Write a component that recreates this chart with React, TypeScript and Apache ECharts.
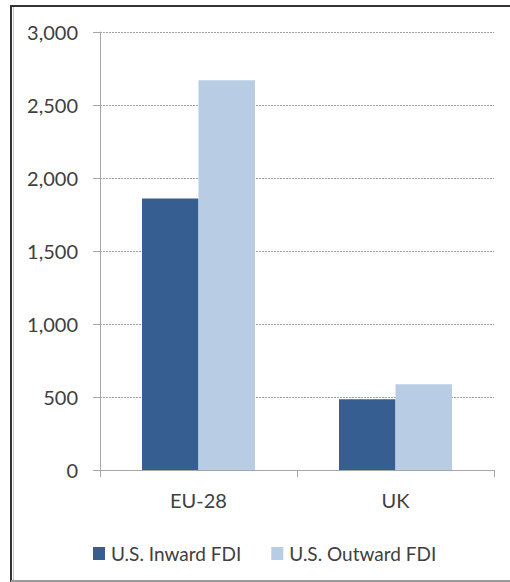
import React, { useEffect, useRef } from "react";
import * as echarts from "echarts";

const categories = ["EU-28", "UK"];
const inwardFDI = [1860, 485];
const outwardFDI = [2670, 588];
const seriesNames = ["U.S. Inward FDI", "U.S. Outward FDI"];
const yTicks = { min: 0, max: 3000, interval: 500 };

const FONT = "Lato";
const TEXT = "#404040";
const FS = 20;

export default function App() {
  const ref = useRef<HTMLDivElement>(null);
  useEffect(() => {
    if (!ref.current) return;
    const chart = echarts.init(ref.current, undefined, { renderer: "svg" });
    chart.setOption({
      animation: false,
      backgroundColor: "#ffffff",
      textStyle: { fontFamily: FONT, color: TEXT },
      grid: { left: 100, right: 16, top: 32, bottom: 112, containLabel: false },
      legend: {
        left: 88,
        top: 539,
        icon: "rect",
        itemWidth: 12,
        itemHeight: 13,
        itemGap: 30,
        textStyle: { fontFamily: FONT, fontSize: 19, color: TEXT, padding: [0, 0, 0, 1] },
        data: seriesNames,
      },
      xAxis: {
        type: "category",
        data: categories,
        axisLine: { show: true, lineStyle: { color: "#a6a6a6", width: 1 } },
        axisTick: { show: true, length: 7, alignWithLabel: false, lineStyle: { color: "#a6a6a6" } },
        axisLabel: { fontFamily: FONT, fontSize: FS, color: TEXT, margin: 20 },
      },
      yAxis: {
        type: "value",
        min: yTicks.min,
        max: yTicks.max,
        interval: yTicks.interval,
        axisLine: { show: true, lineStyle: { color: "#a6a6a6", width: 1 } },
        axisTick: { show: true, length: 7, lineStyle: { color: "#a6a6a6" } },
        axisLabel: {
          fontFamily: FONT,
          fontSize: FS,
          color: TEXT,
          margin: 22,
          formatter: (v: number) => v.toLocaleString("en-US"),
        },
        splitLine: { show: true, lineStyle: { color: "#a0a0a0", type: [2, 1], width: 1 } },
      },
      series: [
        {
          name: seriesNames[0],
          type: "bar",
          data: inwardFDI,
          barWidth: 56.5,
          barGap: "0%",
          itemStyle: { color: "#375E91" },
        },
        {
          name: seriesNames[1],
          type: "bar",
          data: outwardFDI,
          barWidth: 56.5,
          barGap: "0%",
          itemStyle: { color: "#B8CCE4" },
        },
      ],
      graphic: [
        { type: "line", shape: { x1: 11, y1: 6, x2: 510, y2: 6 }, style: { stroke: "#333333", lineWidth: 2 } },
        { type: "line", shape: { x1: 11, y1: 5, x2: 11, y2: 582 }, style: { stroke: "#333333", lineWidth: 2 } },
        { type: "line", shape: { x1: 13.5, y1: 7, x2: 13.5, y2: 580 }, style: { stroke: "#c8c8c8", lineWidth: 1 } },
        { type: "line", shape: { x1: 11, y1: 581, x2: 510, y2: 581 }, style: { stroke: "#999999", lineWidth: 2 } },
      ],
    });
    return () => chart.dispose();
  }, []);
  return (
    <div
      ref={ref}
      style={{ position: "absolute", left: 0, top: 0, width: 510, height: 582 }}
    />
  );
}
